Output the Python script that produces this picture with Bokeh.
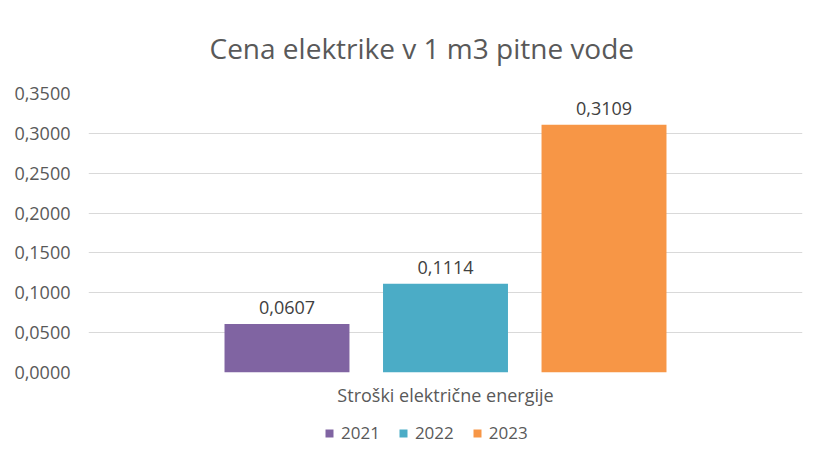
from bokeh.plotting import figure
from bokeh.layouts import column
from bokeh.models import (FactorRange, Range1d, FixedTicker, CustomJSTickFormatter,
                          ColumnDataSource, Legend, LegendItem)
from bokeh.transform import dodge
from bokeh.core.properties import value
from bokeh.embed import file_html
from bokeh.resources import INLINE

title = "Cena elektrike v 1 m3 pitne vode"
category = ["Stroški električne energije"]
years = ["2021", "2022", "2023"]
values = [0.0607, 0.1114, 0.3109]
colors = ["#8064A2", "#4BACC6", "#F79646"]
offsets = [-0.222, 0.0, 0.222]
y_ticks = [0.0, 0.05, 0.10, 0.15, 0.20, 0.25, 0.30, 0.35]

FONT = "Open Sans"

p = figure(x_range=FactorRange(*category, range_padding=0), y_range=Range1d(0, 0.35),
           width=826, height=419, output_backend="svg", toolbar_location=None,
           min_border_left=88, min_border_right=24, min_border_top=93, min_border_bottom=47)

p.title.text = title
p.title.align = "left"
p.title.offset = 121
p.title.vertical_align = "middle"
p.title.text_font = FONT
p.title.text_font_size = "28px"
p.title.text_font_style = "normal"
p.title.text_color = "#595959"
p.title.standoff = 52

p.outline_line_color = None
p.xgrid.visible = False
p.ygrid.grid_line_color = "#d9d9d9"
p.ygrid.grid_line_width = 1

p.yaxis.ticker = FixedTicker(ticks=y_ticks)
p.yaxis.formatter = CustomJSTickFormatter(code="return tick.toFixed(4).replace('.', ',');")
p.yaxis.axis_line_color = None
p.yaxis.major_tick_line_color = None
p.yaxis.minor_tick_line_color = None
p.yaxis.major_label_text_font = FONT
p.yaxis.major_label_text_font_size = "18px"
p.yaxis.major_label_text_color = "#595959"
p.yaxis.major_label_standoff = 12

p.xaxis.axis_line_color = None
p.xaxis.major_tick_line_color = None
p.xaxis.minor_tick_line_color = None
p.xaxis.major_label_text_font = FONT
p.xaxis.major_label_text_font_size = "18px"
p.xaxis.major_label_text_color = "#595959"
p.xaxis.major_label_standoff = 4

# small strip below the chart that holds the legend
p2 = figure(x_range=p.x_range, y_range=p.y_range, width=826, height=36,
            output_backend="svg", toolbar_location=None,
            x_axis_location=None, y_axis_location=None,
            min_border_left=0, min_border_right=0, min_border_top=0, min_border_bottom=0)
p2.outline_line_color = None
p2.grid.visible = False

items = []
for yr, v, c, off in zip(years, values, colors, offsets):
    src = ColumnDataSource(dict(cat=category, value=[v], label=[f"{v:.4f}".replace(".", ",")]))
    p.vbar(x=dodge("cat", off, range=p.x_range), top="value", width=0.175, source=src,
           fill_color=c, line_color=None)
    p.text(x=dodge("cat", off, range=p.x_range), y="value", text="label", source=src,
           text_align="center", text_baseline="bottom", y_offset=-10,
           text_font=value(FONT), text_font_size="18px", text_color="#404040")
    r2 = p2.vbar(x=dodge("cat", off, range=p.x_range), top="value", width=0.175, source=src,
                 fill_color=c, line_color=None, visible=False)
    items.append(LegendItem(label=yr, renderers=[r2]))

legend = Legend(items=items, orientation="horizontal", location=(236, 11),
                glyph_width=10, glyph_height=10, label_standoff=7, spacing=18,
                label_text_font=FONT, label_text_font_size="17px", label_text_color="#595959",
                border_line_color=None, background_fill_alpha=0, padding=4, margin=0,
                inactive_fill_alpha=0, click_policy="none")
p2.add_layout(legend, "center")

open("out.html", "w").write(file_html(column(p, p2, spacing=0), INLINE))
